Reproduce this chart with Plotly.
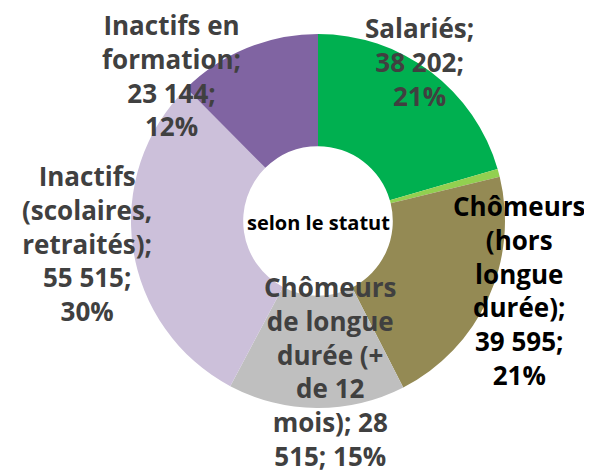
import plotly.graph_objects as go

categories = ["Salariés", "Autres", "Chômeurs (hors longue durée)",
              "Chômeurs de longue durée (+ de 12 mois)",
              "Inactifs (scolaires, retraités)", "Inactifs en formation"]
values = [38202, 1300, 39595, 28515, 55515, 23144]
colors = ["#00B050", "#92D050", "#948A54", "#BFBFBF", "#CCC0DA", "#8064A2"]
center_text = "selon le statut"

# label text wrapping (line breaks as in the reference), per category
label_lines = {
    0: ["Salariés;", "{v};", "{p}"],
    2: ["Chômeurs", "(hors", "longue", "durée);", "{v};", "{p}"],
    3: ["Chômeurs", "de longue", "durée (+", "de 12", "mois); {v1}", "{v2}; {p}"],
    4: ["Inactifs", "(scolaires,", "retraités);", "{v};", "{p}"],
    5: ["Inactifs en", "formation;", "{v};", "{p}"],
}
# screen positions (px) of label block centres
label_pos = {0: (419, 62), 2: (519, 290), 3: (330, 371), 4: (87, 243), 5: (171, 75)}
label_color = {0: "#404040", 2: "#000000", 3: "#404040", 4: "#404040", 5: "#404040"}

W, H = 592, 473
OFF = 8  # page body margin offset
total = sum(values)

def fmt(v):
    return f"{v:,}".replace(",", " ")

def px(x):
    return (x - OFF) / W

def py(y):
    return 1 - (y - OFF) / H

CX, CY, R = 318, 221, 187

fig = go.Figure(go.Pie(
    labels=categories, values=values, hole=0.40, sort=False,
    direction="clockwise", rotation=0,
    marker=dict(colors=colors, line=dict(width=0)),
    textinfo="none", hoverinfo="label+value+percent",
    domain=dict(x=[px(CX - R), px(CX + R)], y=[py(CY + R), py(CY - R)]),
    showlegend=False,
))

annotations = []
for i, lines in label_lines.items():
    v = fmt(values[i])
    p = f"{round(values[i] / total * 100)}%"
    parts = v.split(" ")
    txt = "<br>".join(l.format(v=v, p=p, v1=parts[0], v2=" ".join(parts[1:])) for l in lines)
    x, y = label_pos[i]
    annotations.append(dict(
        x=px(x), y=py(y), xref="paper", yref="paper", text="<b>" + txt + "</b>",
        showarrow=False, xanchor="center", yanchor="middle", align="center",
        font=dict(family="Open Sans", size=26, color=label_color[i])))

annotations.append(dict(
    x=px(318), y=py(222), xref="paper", yref="paper",
    text="<b>" + center_text + "</b>", showarrow=False,
    font=dict(family="Open Sans", size=20, color="#000000")))

fig.update_layout(width=W, height=H, margin=dict(l=0, r=0, t=0, b=0),
                  paper_bgcolor="white", plot_bgcolor="white",
                  annotations=annotations)

fig.write_html("out.html")
